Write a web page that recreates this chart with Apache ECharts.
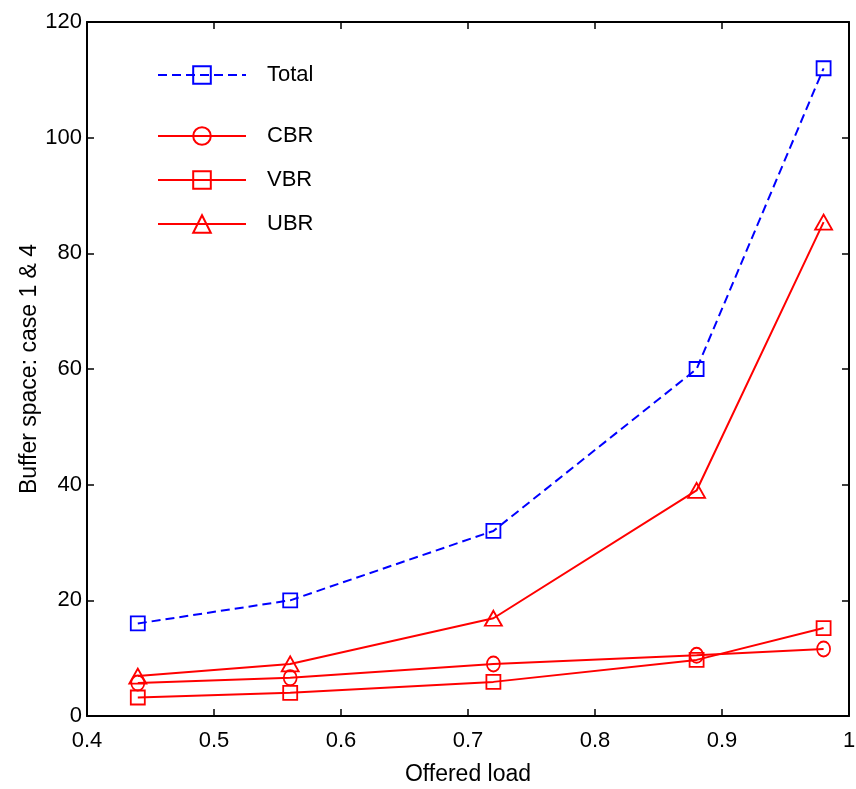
<!DOCTYPE html>
<html>
<head>
<meta charset="utf-8">
<script src="https://cdn.jsdelivr.net/npm/echarts@6/dist/echarts.min.js"></script>
<style>html,body{margin:0;padding:0;background:#fff}#c{width:856px;height:789px}</style>
</head>
<body>
<div id="c"></div>
<script>
const offeredLoad = [0.44, 0.56, 0.72, 0.88, 0.98];
const totalVals = [16, 20, 32, 60, 112];
const cbrVals = [5.7, 6.6, 9.0, 10.5, 11.6];
const vbrVals = [3.2, 4.0, 5.9, 9.7, 15.2];
const ubrVals = [6.9, 9.0, 16.9, 39.0, 85.4];
const xTicks = [0.4, 0.5, 0.6, 0.7, 0.8, 0.9, 1];
const yTicks = [0, 20, 40, 60, 80, 100, 120];

const FONT = '"Liberation Sans", Arial, sans-serif';
const pairs = v => offeredLoad.map((x, i) => [x, v[i]]);

function mk(name, vals, color, symbol, size, dashed) {
  return {
    name: name, type: 'line', data: pairs(vals),
    symbol: symbol, symbolSize: size, showSymbol: true,
    lineStyle: { color: color, width: 2, type: dashed ? [9, 5] : 'solid' },
    itemStyle: { color: 'rgba(0,0,0,0)', borderColor: color, borderWidth: 1.8 },
    emphasis: { disabled: true }, animation: false, z: 3
  };
}

const axisCommon = {
  axisLine: { show: true, onZero: false, lineStyle: { color: '#000', width: 2 } },
  axisTick: { show: true, inside: true, length: 7, lineStyle: { color: '#000', width: 1.5 } },
  splitLine: { show: false }
};

const chart = echarts.init(document.getElementById('c'), null, { renderer: 'canvas' });
chart.setOption({
  backgroundColor: '#fff',
  animation: false,
  grid: { left: 87, right: 7, top: 22, bottom: 73, containLabel: false, outerBoundsMode: 'none' },
  xAxis: [
    Object.assign({}, axisCommon, {
      type: 'value', min: 0.4, max: 1, interval: 0.1, position: 'bottom',
      name: 'Offered load', nameLocation: 'middle', nameGap: 47, nameMoveOverlap: false,
      nameTextStyle: { fontFamily: FONT, fontSize: 23, color: '#000' },
      axisLabel: { fontFamily: FONT, fontSize: 22, color: '#000', margin: 14,
        formatter: v => { const t = xTicks.find(k => Math.abs(k - v) < 1e-9); return t === undefined ? '' : String(t); } }
    }),
    Object.assign({}, axisCommon, {
      type: 'value', min: 0.4, max: 1, interval: 0.1, position: 'top',
      axisLabel: { show: false }
    })
  ],
  yAxis: [
    Object.assign({}, axisCommon, {
      type: 'value', min: 0, max: 120, interval: 20, position: 'left',
      name: 'Buffer space: case 1 & 4', nameLocation: 'middle', nameGap: 46, nameMoveOverlap: false,
      nameTextStyle: { fontFamily: FONT, fontSize: 23, color: '#000' },
      axisLabel: { fontFamily: FONT, fontSize: 22, color: '#000', margin: 5,
        formatter: v => { const t = yTicks.find(k => Math.abs(k - v) < 1e-9); return t === undefined ? '' : String(t); } }
    }),
    Object.assign({}, axisCommon, {
      type: 'value', min: 0, max: 120, interval: 20, position: 'right',
      axisLabel: { show: false }
    })
  ],
  legend: [
    {
      data: ['Total'], orient: 'vertical', left: 152, top: 59,
      itemWidth: 88, itemHeight: 22, itemGap: 22,
      textStyle: { fontFamily: FONT, fontSize: 22, color: '#000', padding: [0, 0, 0, 16] },
      selectedMode: false
    },
    {
      data: ['CBR', 'VBR', 'UBR'], orient: 'vertical', left: 152, top: 120,
      itemWidth: 88, itemHeight: 22, itemGap: 22,
      textStyle: { fontFamily: FONT, fontSize: 22, color: '#000', padding: [0, 0, 0, 16] },
      selectedMode: false
    }
  ],
  series: [
    mk('Total', totalVals, '#0000ff', 'rect', 14, true),
    mk('CBR', cbrVals, '#ff0000', 'circle', [13, 15], false),
    mk('VBR', vbrVals, '#ff0000', 'rect', 14, false),
    mk('UBR', ubrVals, '#ff0000', 'triangle', [17, 15], false)
  ]
});
</script>
</body>
</html>
